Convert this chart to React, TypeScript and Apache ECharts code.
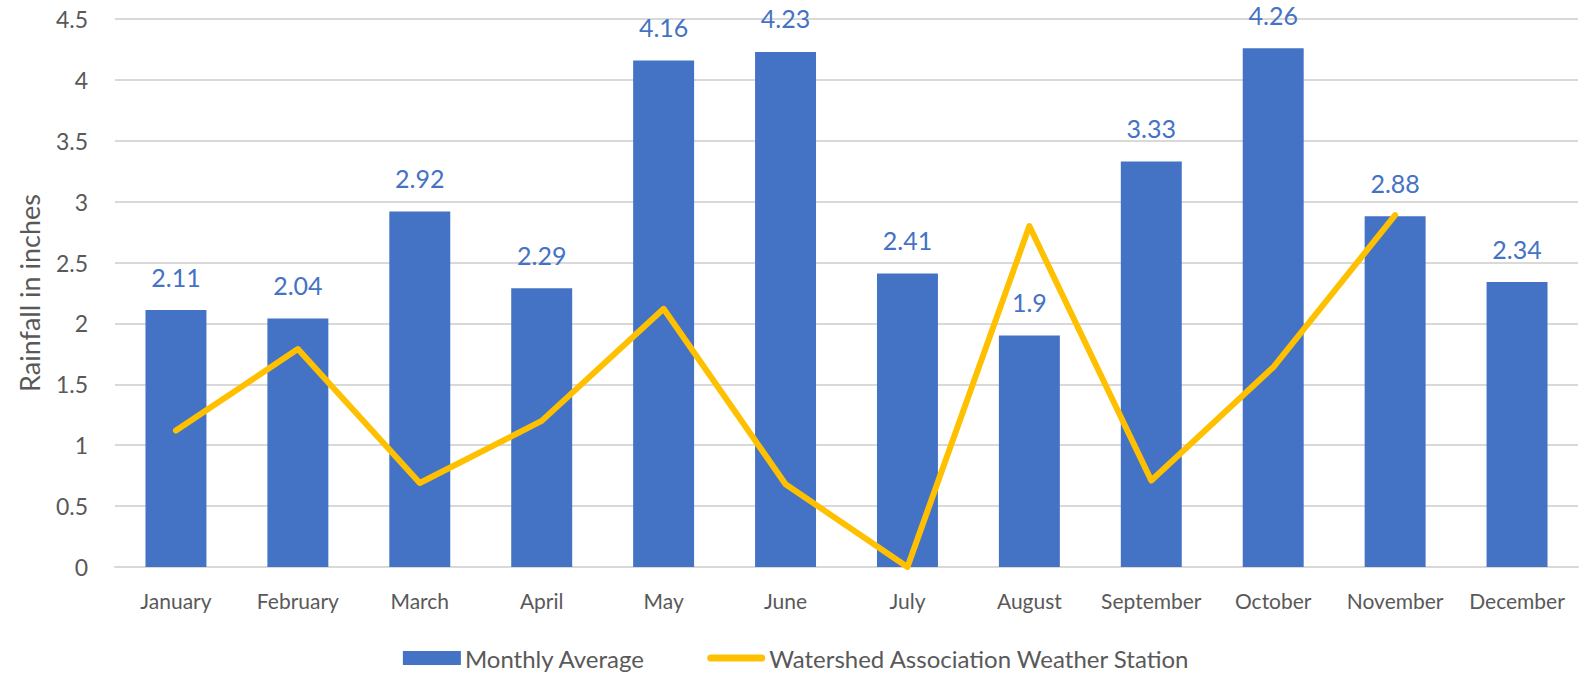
import React, { useEffect, useRef } from "react";
import * as echarts from "echarts";

const categories = ["January", "February", "March", "April", "May", "June", "July", "August", "September", "October", "November", "December"];
const monthlyAverage = [2.11, 2.04, 2.92, 2.29, 4.16, 4.23, 2.41, 1.9, 3.33, 4.26, 2.88, 2.34];
const stationValues: (number | null)[] = [1.12, 1.79, 0.69, 1.2, 2.12, 0.68, 0.0, 2.8, 0.71, 1.64, 2.89, null];
const yTicks = { min: 0, max: 4.5, interval: 0.5 };

const FONT = "Lato, 'Open Sans', sans-serif";
const GREY = "#595959";

export default function App() {
  const ref = useRef<HTMLDivElement>(null);
  useEffect(() => {
    if (!ref.current) return;
    document.body.style.margin = "0";
    document.body.style.overflow = "hidden";
    const chart = echarts.init(ref.current, undefined, { renderer: "svg" });
    chart.setOption({
      animation: false,
      backgroundColor: "#ffffff",
      grid: { left: 115, right: 15, top: 19, bottom: 108 },
      legend: {
        top: 640,
        left: "center",
        itemGap: 62,
        itemWidth: 58,
        itemHeight: 14,
        textStyle: { fontFamily: FONT, fontSize: 24, lineHeight: 26, color: GREY, padding: [0, 0, 0, -1] },
        data: [
          { name: "Monthly Average", icon: "rect" },
          {
            name: "Watershed Association Weather Station",
            icon: "path://M3.5,0 L54.5,0 A3.5,3.5 0 0 1 54.5,7 L3.5,7 A3.5,3.5 0 0 1 3.5,0 Z",
            itemStyle: { color: "#FFC000" },
          },
        ],
      },
      xAxis: {
        type: "category",
        data: categories,
        axisLine: { show: true, lineStyle: { color: "#D9D9D9", width: 2 } },
        axisTick: { show: false },
        axisLabel: { fontFamily: FONT, fontSize: 21, color: GREY, margin: 23, interval: 0 },
      },
      yAxis: {
        type: "value",
        min: yTicks.min,
        max: yTicks.max,
        interval: yTicks.interval,
        name: "Rainfall in inches",
        nameLocation: "middle",
        nameGap: 72,
        nameTextStyle: { fontFamily: FONT, fontSize: 27, color: GREY },
        axisLabel: { fontFamily: FONT, fontSize: 23, color: GREY, margin: 27 },
        splitLine: { lineStyle: { color: "#D9D9D9", width: 2 } },
        axisLine: { show: false },
        axisTick: { show: false },
      },
      series: [
        {
          name: "Monthly Average",
          type: "bar",
          data: monthlyAverage,
          barWidth: "50%",
          itemStyle: { color: "#4472C4" },
          label: {
            show: true,
            position: "top",
            distance: 21,
            fontFamily: FONT,
            fontSize: 25,
            color: "#4472C4",
          },
          z: 2,
        },
        {
          name: "Watershed Association Weather Station",
          type: "line",
          data: stationValues,
          showSymbol: false,
          symbol: "none",
          connectNulls: false,
          lineStyle: { color: "#FFC000", width: 6, cap: "round", join: "round" },
          itemStyle: { color: "#FFC000" },
          z: 3,
        },
      ],
    });
    return () => chart.dispose();
  }, []);
  return <div ref={ref} style={{ width: 1593, height: 675 }} />;
}
